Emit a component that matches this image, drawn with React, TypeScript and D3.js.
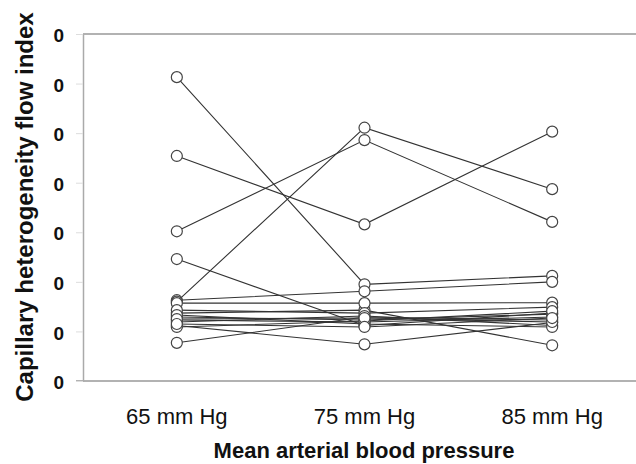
import { useEffect, useRef } from "react";
import * as d3 from "d3";

const PRESSURES = ["65 mm Hg", "75 mm Hg", "85 mm Hg"];
const Y_TICKS = [0, 0.1, 0.2, 0.3, 0.4, 0.5, 0.6, 0.7];

// one row per subject: flow index at 65, 75, 85 mm Hg
const SUBJECTS: number[][] = [
  [0.613, 0.195, 0.212],
  [0.163, 0.181, 0.2],
  [0.454, 0.316, 0.503],
  [0.302, 0.486, 0.321],
  [0.16, 0.511, 0.387],
  [0.246, 0.112, 0.137],
  [0.077, 0.129, 0.123],
  [0.112, 0.074, 0.118],
  [0.137, 0.143, 0.072],
  [0.157, 0.157, 0.158],
  [0.143, 0.137, 0.149],
  [0.129, 0.123, 0.135],
  [0.123, 0.119, 0.129],
  [0.119, 0.131, 0.112],
  [0.133, 0.115, 0.109],
  [0.109, 0.121, 0.141],
  [0.125, 0.127, 0.119],
  [0.115, 0.109, 0.127],
];

const W = 636;
const H = 464;

export default function App() {
  const ref = useRef<SVGSVGElement | null>(null);

  useEffect(() => {
    if (!ref.current) return;
    const svg = d3.select(ref.current);
    svg.selectAll("*").remove();

    const left = 83, top = 34, bottom = 381;
    const x = d3.scalePoint<string>().domain(PRESSURES).range([left, 646]).padding(0.5);
    const y = d3.scaleLinear().domain([0, 0.7]).range([bottom, top]);
    const font = "Liberation Sans, Arial, sans-serif";

    // frame
    svg.append("line")
      .attr("x1", left).attr("x2", W).attr("y1", y(0.7)).attr("y2", y(0.7))
      .attr("stroke", "#999").attr("stroke-width", 1.5);
    svg.append("line")
      .attr("x1", 76).attr("x2", W).attr("y1", y(0)).attr("y2", y(0))
      .attr("stroke", "#999").attr("stroke-width", 1.5);

    // labels are shown with no decimals (integer part only), as in the source figure
    const yAxis = svg.append("g")
      .attr("transform", `translate(${left},0)`)
      .call(d3.axisLeft(y).tickValues(Y_TICKS).tickSize(7).tickSizeOuter(0)
        .tickFormat(d => String(Math.trunc(+d))));
    yAxis.select(".domain").attr("stroke", "#aaa").attr("stroke-width", 1.5);
    yAxis.selectAll(".tick line").attr("stroke", "#ddd");
    yAxis.selectAll(".tick text")
      .attr("x", -19).attr("dy", "0.4em")
      .style("font-family", font).style("font-size", "19px").style("font-weight", 700)
      .style("fill", "#111");

    svg.append("g").selectAll("text")
      .data(PRESSURES)
      .join("text")
      .attr("x", d => x(d) || 0)
      .attr("y", 424)
      .attr("text-anchor", "middle")
      .style("font-family", font).style("font-size", "22px")
      .style("fill", "#111")
      .text(d => d);

    const line = d3.line<number>()
      .x((_, i) => x(PRESSURES[i]) || 0)
      .y(d => y(d));

    svg.append("g").selectAll("path")
      .data(SUBJECTS)
      .join("path")
      .attr("d", d => line(d))
      .attr("fill", "none")
      .attr("stroke", "#333")
      .attr("stroke-width", 1.1);

    const pts = SUBJECTS.flatMap(s => s.map((v, i) => ({ p: PRESSURES[i], v })));
    svg.append("g").selectAll("circle")
      .data(pts)
      .join("circle")
      .attr("cx", d => x(d.p) || 0)
      .attr("cy", d => y(d.v))
      .attr("r", 5.5)
      .attr("fill", "#fff")
      .attr("stroke", "#444")
      .attr("stroke-width", 1.2);

    svg.append("text")
      .attr("x", 364).attr("y", 458)
      .attr("text-anchor", "middle")
      .style("font-family", font).style("font-size", "22px").style("font-weight", 700)
      .style("fill", "#111")
      .text("Mean arterial blood pressure");

    svg.append("text")
      .attr("transform", "translate(33,207) rotate(-90)")
      .attr("text-anchor", "middle")
      .style("font-family", font).style("font-size", "24px").style("font-weight", 700)
      .style("fill", "#111")
      .text("Capillary heterogeneity flow index");
  }, []);

  return (
    <svg ref={ref} width={W} height={H}
      style={{ position: "absolute", left: 0, top: 0, background: "#fff" }} />
  );
}
